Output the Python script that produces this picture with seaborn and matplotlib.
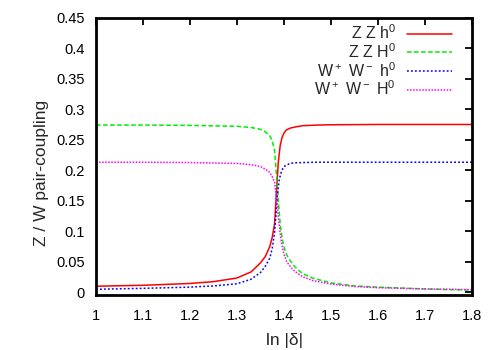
import numpy as np
import pandas as pd
import matplotlib
matplotlib.use("Agg")
import matplotlib.pyplot as plt
from matplotlib.ticker import FuncFormatter
import seaborn as sns

# values
x_zzh = [1.0, 1.1, 1.2, 1.25, 1.3, 1.33, 1.35, 1.36, 1.37, 1.375, 1.38, 1.384, 1.388,
         1.392, 1.396, 1.4, 1.405, 1.413, 1.425, 1.44, 1.47, 1.5, 1.6, 1.7, 1.8]
y_zzh = [0.0095, 0.011, 0.014, 0.017, 0.023, 0.033, 0.048, 0.058, 0.075, 0.09, 0.112, 0.165, 0.214,
         0.241, 0.254, 0.261, 0.266, 0.269, 0.271, 0.273, 0.274, 0.2745, 0.275, 0.275, 0.275]

x_zzH = [1.0, 1.1, 1.2, 1.3, 1.33, 1.35, 1.36, 1.37, 1.375, 1.38, 1.384, 1.388, 1.392,
         1.396, 1.4, 1.405, 1.41, 1.42, 1.43, 1.44, 1.46, 1.5, 1.55, 1.6, 1.7, 1.8]
y_zzH = [0.274, 0.274, 0.2735, 0.272, 0.270, 0.267, 0.263, 0.256, 0.248, 0.232, 0.192, 0.149, 0.111,
         0.088, 0.074, 0.062, 0.055, 0.044, 0.036, 0.030, 0.023, 0.015, 0.010, 0.008, 0.005, 0.003]

x_wwh = [1.0, 1.1, 1.2, 1.25, 1.3, 1.33, 1.35, 1.36, 1.37, 1.375, 1.38, 1.383, 1.386,
         1.39, 1.395, 1.4, 1.41, 1.42, 1.44, 1.47, 1.5, 1.6, 1.8]
y_wwh = [0.0045, 0.006, 0.008, 0.010, 0.0135, 0.021, 0.032, 0.042, 0.056, 0.072, 0.098, 0.128, 0.160,
         0.185, 0.199, 0.206, 0.210, 0.212, 0.2125, 0.213, 0.213, 0.213, 0.213]

x_wwH = [1.0, 1.1, 1.2, 1.3, 1.33, 1.35, 1.36, 1.37, 1.375, 1.38, 1.384, 1.388, 1.392,
         1.396, 1.4, 1.405, 1.41, 1.42, 1.43, 1.44, 1.46, 1.5, 1.55, 1.6, 1.7, 1.8]
y_wwH = [0.213, 0.213, 0.2125, 0.211, 0.209, 0.206, 0.202, 0.196, 0.189, 0.180, 0.155, 0.122, 0.095,
         0.075, 0.062, 0.051, 0.045, 0.036, 0.030, 0.025, 0.019, 0.013, 0.009, 0.007, 0.005, 0.004]

labels = ["Z Z h$^0$", "Z Z H$^0$", "W$^+$ W$^-$ h$^0$", "W$^+$ W$^-$ H$^0$"]
colors = ["#ff0000", "#00ee00", "#0000ff", "#ff00ff"]
dashes = [None, (3, 1.6), (1.2, 1.4), (1, 1)]

x_ticks = [1.0, 1.1, 1.2, 1.3, 1.4, 1.5, 1.6, 1.7, 1.8]
y_ticks = [0, 0.05, 0.1, 0.15, 0.2, 0.25, 0.3, 0.35, 0.4, 0.45]

sns.set_theme(style="white")
plt.rcParams["font.family"] = ["Liberation Sans", "DejaVu Sans"]
plt.rcParams["mathtext.default"] = "regular"

fig = plt.figure(figsize=(5, 3.5), dpi=100)
ax = fig.add_axes([0.192, 0.157, 0.752, 0.792])

series = [(x_zzh, y_zzh), (x_zzH, y_zzH), (x_wwh, y_wwh), (x_wwH, y_wwH)]
for (xs, ys), lab, col, ds in zip(series, labels, colors, dashes):
    df = pd.DataFrame({"x": xs, "y": ys})
    sns.lineplot(data=df, x="x", y="y", ax=ax, color=col, lw=1.1,
                 label=lab, estimator=None, sort=True)
    if ds is not None:
        ax.lines[-1].set_dashes(ds)

ax.set_xlim(1, 1.8)
ax.set_ylim(-0.005, 0.45)
ax.set_xticks(x_ticks)
ax.set_yticks(y_ticks)
fmt = FuncFormatter(lambda v, p: "%g" % round(v, 3))
ax.xaxis.set_major_formatter(fmt)
ax.yaxis.set_major_formatter(fmt)
ax.tick_params(direction="in", top=True, right=True, length=5, width=1.3,
               labelsize=10.5, colors="black")
ax.tick_params(axis="x", pad=10)
ax.tick_params(axis="y", pad=8)
for s in ax.spines.values():
    s.set_linewidth(2)
    s.set_color("black")

ax.set_xlabel("ln |δ|", fontsize=12.5, labelpad=7)
ax.set_ylabel("Z / W pair-coupling", fontsize=12.5)
ax.yaxis.set_label_coords(-0.125, 0.44)

ax.legend(loc="upper right", bbox_to_anchor=(0.963, 1.003), frameon=False,
          markerfirst=False, fontsize=11.5, handlelength=2.8, handletextpad=0.7,
          labelspacing=0.0, borderaxespad=0)

fig.savefig("out.png", dpi=100)
